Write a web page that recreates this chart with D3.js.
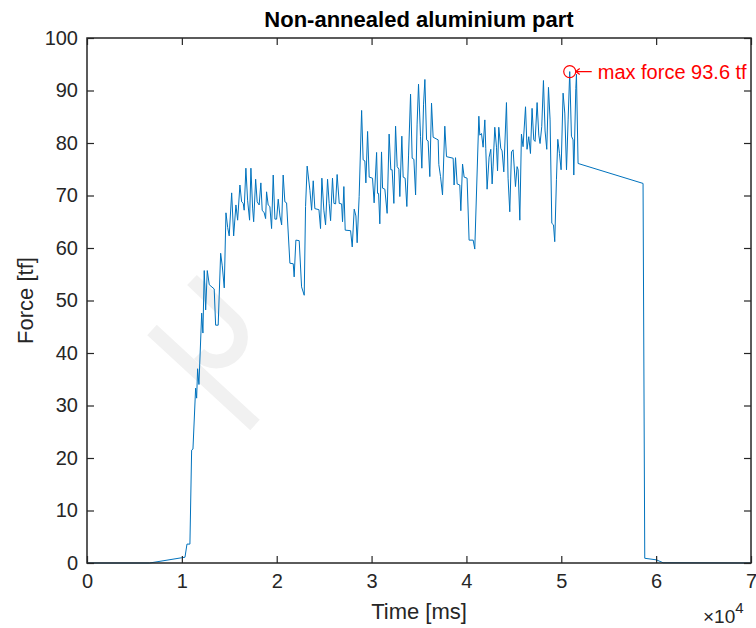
<!DOCTYPE html>
<html>
<head>
<meta charset="utf-8">
<script src="https://cdn.jsdelivr.net/npm/d3@7"></script>
<style>
  body { margin: 0; background: #fff; }
  svg { display: block; font-family: "Liberation Sans", Arial, sans-serif; }
</style>
</head>
<body>
<script>
// force trace (time in ms, force in tf)
var timeMs = [0, 6600, 9980, 10330, 10540, 10850, 11030, 11170, 11450, 11560, 11660, 11800,
  12010, 12090, 12220, 12360, 12510, 12680, 12890, 13410, 13560, 13830, 14090, 14260, 14470,
  14650, 14830, 14990, 15250, 15460, 15700, 15880, 16120, 16300, 16470, 16570, 16750, 16930,
  17140, 17280, 17460, 17570, 17780, 17940, 18150, 18330, 18470, 18680, 18830, 18930, 19100,
  19280, 19460, 19630, 19810, 19990, 20160, 20340, 20520, 20680, 20860, 21040, 21390, 21740,
  21840, 22020, 22370, 22620, 22900, 23040, 23210, 23500, 23680, 23850, 24020, 24450, 24620,
  24760, 24970, 25150, 25360, 25530, 25680, 25880, 26030, 26210, 26370, 26590, 26840, 26940,
  27080, 27220, 27790, 27960, 28170, 28350, 28480, 28690, 28950, 29110, 29290, 29400, 29580,
  29750, 30100, 30270, 30530, 30630, 30740, 30870, 31050, 31160, 31400, 31640, 31850, 32030,
  32170, 32350, 32530, 32700, 32880, 32980, 33190, 33330, 33540, 33720, 33900, 34110, 34280,
  34460, 34640, 34800, 34950, 35160, 35300, 35480, 35620, 35800, 35960, 36140, 36320, 36490,
  37020, 37090, 37270, 37480, 37720, 37900, 38600, 38700, 38850, 39020, 39300, 39410, 39590,
  39760, 40070, 40280, 40710, 40880, 41310, 41410, 41590, 41760, 41940, 42040, 42180, 42390,
  42570, 42710, 42810, 42990, 43170, 43280, 43410, 43620, 43760, 43940, 44220, 44390, 44570,
  44750, 44920, 45170, 45340, 45450, 45630, 45800, 45970, 46230, 46390, 46570, 46750, 46920,
  47100, 47240, 47450, 47630, 47760, 47940, 48120, 48290, 48470, 48650, 48820, 49000, 49180,
  49310, 49490, 49630, 49810, 49980, 50190, 50370, 50550, 50720, 50890, 51070, 51240, 51320,
  51530, 51600, 51770, 58620, 58800, 60030, 60730, 70000];
var forceTf = [0, 0, 1.0, 1.1, 3.6, 3.6, 21.5, 21.7, 33.3, 31.4, 37, 34,
  43.8, 47.6, 43.8, 55.7, 48.2, 55.7, 53, 52.2, 45.3, 45.3, 59, 56.6, 52.4,
  66.7, 63.9, 62.3, 70.5, 62.3, 68.2, 65.3, 72, 68.8, 68.5, 67.2, 75.2, 69.1,
  65.3, 75.2, 67.6, 65, 73.1, 68.8, 68.2, 72.4, 67.2, 66.7, 65.6, 70.7, 68.2,
  67.9, 63.7, 73.9, 65.5, 65.5, 69.3, 66.1, 64.4, 73.9, 68.8, 68.6, 57.1, 57,
  54.5, 61.5, 61.4, 52.6, 51, 67.9, 75.6, 71, 67.2, 72.8, 67.5, 67.3, 63.7,
  73.3, 67.2, 64.4, 73.1, 68.5, 65.2, 73.3, 68.5, 68.4, 74.0, 68.5, 68.4, 65.0,
  71.7, 63.4, 63.3, 60.2, 67.4, 66.1, 61.0, 69.8, 86.2, 76.8, 76.6, 72.4, 82.2,
  73.5, 73.3, 68.6, 78.2, 70.4, 70.4, 64.6, 78.3, 71.4, 71.2, 66.6, 81.7, 74.9,
  74.9, 68.5, 83.2, 75.5, 75.0, 69.8, 81.3, 73.5, 73.3, 67.9, 77.7, 89.3, 77.1,
  76.9, 70.1, 83.6, 91.2, 81.2, 75.2, 87.4, 92.1, 80.6, 80.4, 73.6, 87.6, 81.1,
  80.6, 75.9, 73.6, 70.1, 83.2, 77.4, 77.1, 72.0, 77.2, 72.2, 72.0, 67.1, 76.0,
  73.5, 73.3, 61.5, 61.5, 59.8, 85.1, 81.5, 81.8, 79.2, 84.4, 79.0, 71.2, 77.3,
  78.8, 72.2, 75.6, 83.0, 79.2, 74.7, 83.0, 79.0, 78.5, 74.5, 87.7, 73.3, 66.9,
  78.3, 78.7, 71.7, 75.5, 74.9, 65.3, 81.7, 79.3, 86.9, 78.8, 81.2, 78.0, 86.6,
  80.6, 80.3, 87.7, 81.5, 79.9, 83.1, 91.9, 82.3, 78.8, 90.6, 84.4, 64.7, 64.4,
  61.2, 73.0, 80.7, 78.0, 74.9, 89.5, 85.7, 74.9, 84.4, 93.6, 81.3, 80.6, 73.9,
  90.4, 93.1, 76.1, 72.3, 0.9, 0.6, 0.05, 0];

var xTicks = [0, 10000, 20000, 30000, 40000, 50000, 60000, 70000];
var yTicks = [0, 10, 20, 30, 40, 50, 60, 70, 80, 90, 100];
var maxLabel = "max force 93.6 tf";

var width = 756, height = 628;
var margin = { left: 87, right: 5, top: 38, bottom: 65 };
var axisColor = "#262626";

var svg = d3.select("body").append("svg")
  .attr("width", width)
  .attr("height", height);

var x = d3.scaleLinear().domain([0, 70000]).range([margin.left, width - margin.right]);
var y = d3.scaleLinear().domain([0, 100]).range([height - margin.bottom, margin.top]);

// faint watermark behind the plot
var wm = svg.append("g").attr("fill", "none").attr("stroke", "#f1f1f1").attr("stroke-width", 14);
wm.append("path").attr("d", "M152,330 L255,425");
wm.append("path").attr("d", "M192,280 L234,320 A24,24 0 0 1 199,354");

var data = timeMs.map(function(t, i) { return { t: t, f: forceTf[i] }; });

var line = d3.line()
  .x(function(d) { return x(d.t); })
  .y(function(d) { return y(d.f); });

svg.append("path")
  .datum(data)
  .attr("fill", "none")
  .attr("stroke", "#0072bd")
  .attr("stroke-width", 1)
  .attr("stroke-linejoin", "round")
  .attr("d", line);

// axes, MATLAB-like: ticks inward on all four sides
function styleAxis(g) {
  g.select(".domain").remove();
  g.selectAll(".tick line").attr("stroke", axisColor).attr("stroke-width", 1.2);
  g.selectAll("text").attr("fill", axisColor).style("font-size", "20px");
}

svg.append("g")
  .attr("transform", "translate(0," + y(0) + ")")
  .call(d3.axisBottom(x).tickValues(xTicks).tickSize(-7).tickPadding(11)
    .tickFormat(function(d) { return d / 10000; }))
  .call(styleAxis);

svg.append("g")
  .attr("transform", "translate(0," + y(100) + ")")
  .call(d3.axisTop(x).tickValues(xTicks).tickSize(-7).tickFormat(""))
  .call(styleAxis);

svg.append("g")
  .attr("transform", "translate(" + x(0) + ",0)")
  .call(d3.axisLeft(y).tickValues(yTicks).tickSize(-7).tickPadding(9))
  .call(styleAxis);

svg.append("g")
  .attr("transform", "translate(" + x(70000) + ",0)")
  .call(d3.axisRight(y).tickValues(yTicks).tickSize(-7).tickFormat(""))
  .call(styleAxis);

svg.append("rect")
  .attr("x", x(0)).attr("y", y(100))
  .attr("width", x(70000) - x(0)).attr("height", y(0) - y(100))
  .attr("fill", "none").attr("stroke", axisColor).attr("stroke-width", 1.5);

// title and labels
svg.append("text")
  .attr("x", (x(0) + x(70000)) / 2).attr("y", 27)
  .attr("text-anchor", "middle")
  .attr("font-weight", "bold").attr("font-size", 22).attr("fill", "#000")
  .text("Non-annealed aluminium part");

svg.append("text")
  .attr("x", (x(0) + x(70000)) / 2).attr("y", 619)
  .attr("text-anchor", "middle")
  .attr("font-size", 22).attr("fill", axisColor)
  .text("Time [ms]");

svg.append("text")
  .attr("transform", "translate(33," + (y(50)) + ") rotate(-90)")
  .attr("text-anchor", "middle")
  .attr("font-size", 22).attr("fill", axisColor)
  .text("Force [tf]");

var expo = svg.append("text")
  .attr("x", 703).attr("y", 623)
  .attr("font-size", 19).attr("fill", axisColor);
expo.append("tspan").text("\u00d710");
expo.append("tspan").attr("dy", -10).attr("font-size", 15).text("4");

// max force marker and annotation
var maxIdx = d3.maxIndex(forceTf);
var mx = x(timeMs[maxIdx]), my = y(forceTf[maxIdx]);

svg.append("circle")
  .attr("cx", mx).attr("cy", my).attr("r", 6)
  .attr("fill", "none").attr("stroke", "#ff0000").attr("stroke-width", 1.2);

svg.append("path")
  .attr("d", "M" + (mx + 6) + "," + my + " L" + (mx + 22) + "," + my +
    " M" + (mx + 6) + "," + my + " l4,-3 M" + (mx + 6) + "," + my + " l4,3")
  .attr("fill", "none").attr("stroke", "#ff0000").attr("stroke-width", 1.2);

svg.append("text")
  .attr("x", mx + 28).attr("y", my)
  .attr("dy", "0.35em")
  .attr("font-size", 20).attr("fill", "#ff0000")
  .text(maxLabel);
</script>
</body>
</html>
